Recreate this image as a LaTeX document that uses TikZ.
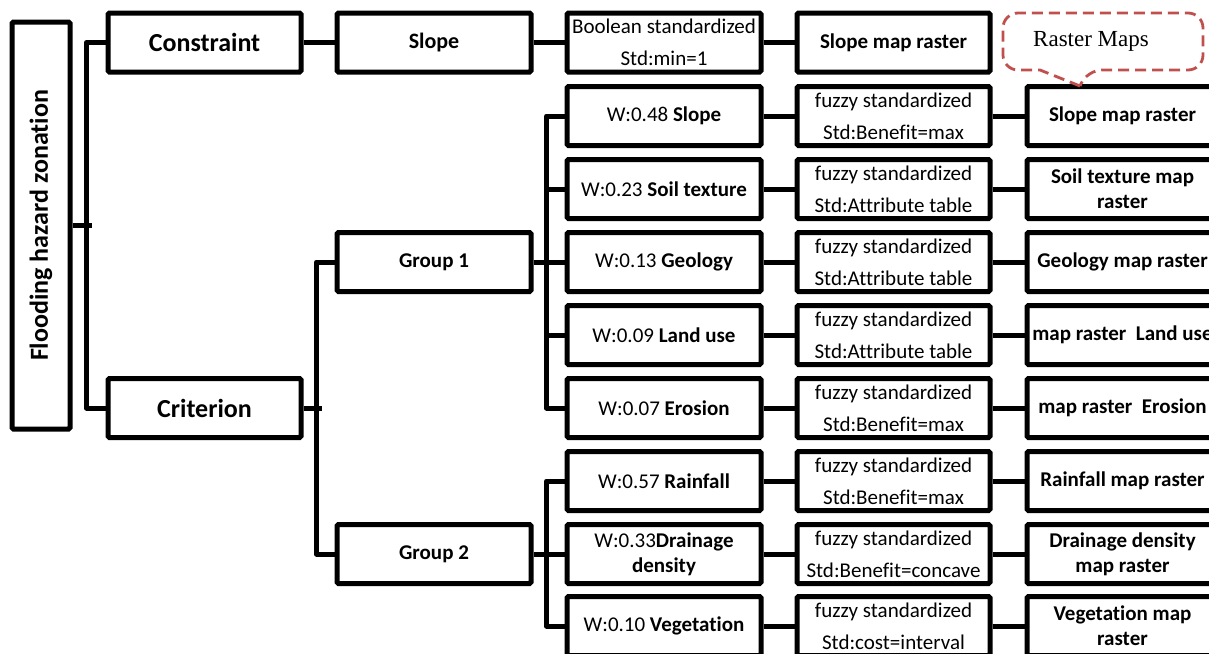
\documentclass[tikz,border=0pt]{standalone}
\usepackage{fontspec}
\setmainfont{Carlito}[Ligatures=NoCommon]
\newfontfamily\seriffont{Liberation Serif}
\usetikzlibrary{calc}

\definecolor{calloutred}{HTML}{C0504D}

\tikzset{
  box/.style={draw, line width=5pt, rounded corners=1.5pt, inner sep=0pt,
    minimum height=59pt, align=center, font=\fontsize{21}{25}\selectfont},
  wbox/.style={box, minimum width=194pt},
  stdbox/.style={box, minimum width=193pt, font=\fontsize{21}{32}\selectfont},
  mapbox/.style={box, minimum width=191pt, font=\fontsize{21}{25}\selectfont\bfseries},
  link/.style={line width=5pt, line join=round},
  callout/.style={calloutred, line width=2.8pt, dash pattern=on 11pt off 6pt}
}

\begin{document}
\begin{tikzpicture}[x=1pt, y=-1pt]
\useasboundingbox (0,0) rectangle (1209,653);
\clip (0,0) rectangle (1209,653);

% left part of the tree
\node[box, rotate=90, minimum width=407pt, minimum height=58pt, font=\fontsize{26}{30}\selectfont\bfseries] (flood) at (41,225.5) {Flooding hazard zonation};
\node[wbox, minimum width=193pt, font=\fontsize{26}{30}\selectfont\bfseries] (constraint) at (204.5,42.5) {Constraint};
\node[wbox, minimum width=193pt, font=\fontsize{26}{30}\selectfont\bfseries] (criterion) at (204.5,408) {Criterion};
\node[wbox, font=\fontsize{22}{26}\selectfont\bfseries] (slope) at (434,42.5) {Slope};
\node[wbox, font=\fontsize{21}{25}\selectfont\bfseries] (group1) at (434,262) {Group 1};
\node[wbox, font=\fontsize{21}{25}\selectfont\bfseries] (group2) at (434,554) {Group 2};
\node[stdbox, minimum width=194pt] (boolean) at (664,42.5) {Boolean standardized\\Std:min=1};
\node[mapbox, minimum width=193pt] (slopemap) at (893.5,42.5) {Slope map raster};

% criterion rows
\foreach \i/\y/\wtext/\ftext/\rtext in {
  1/116/{W:0.48 \textbf{Slope}}/{fuzzy standardized\\Std:Benefit=max}/{Slope map raster},
  2/189/{W:0.23 \textbf{Soil texture}}/{fuzzy standardized\\Std:Attribute table}/{Soil texture map\\raster},
  3/262/{W:0.13 \textbf{Geology}}/{fuzzy standardized\\Std:Attribute table}/{Geology map raster},
  4/335/{W:0.09 \textbf{Land use}}/{fuzzy standardized\\Std:Attribute table}/{map raster\ \ Land use},
  5/408/{W:0.07 \textbf{Erosion}}/{fuzzy standardized\\Std:Benefit=max}/{map raster\ \ Erosion},
  6/481/{W:0.57 \textbf{Rainfall}}/{fuzzy standardized\\Std:Benefit=max}/{Rainfall map raster},
  7/554/{W:0.33\textbf{Drainage}\\\textbf{density}}/{fuzzy standardized\\Std:Benefit=concave}/{Drainage density\\map raster},
  8/626/{W:0.10 \textbf{Vegetation}}/{fuzzy standardized\\Std:cost=interval}/{Vegetation map\\raster}} {
  \node[wbox] (w\i) at (664,\y) {\wtext};
  \node[stdbox] (f\i) at (893.5,\y) {\ftext};
  \node[mapbox] (r\i) at (1122.5,\y) {\rtext};
  \draw[link] (w\i) -- (f\i) -- (r\i);
}

% branches
\draw[link] (flood.south) -- ++(19,0);
\draw[link] (constraint.west) -- ++(-19,0) |- (criterion.west);
\draw[link] (constraint) -- (slope) -- (boolean) -- (slopemap);
\draw[link] (criterion.east) -- ++(18,0);
\draw[link] (group1.west) -- ++(-18,0) |- (group2.west);
\draw[link] (group1) -- (w3);
\draw[link] (group2) -- (w7);
\draw[link] (w1.west) -- ++(-18,0) |- (w5.west);
\draw[link] (w6.west) -- ++(-18,0) |- (w8.west);
\foreach \i in {2,3,4}
  \draw[link] (w\i.west) -- ++(-18,0);

% callout
\draw[callout] (1080,86) -- (1040,70) [rounded corners=15pt] -- (1003,70) -- (1003,13) -- (1203,13) -- (1203,70) -- (1087,70) [sharp corners] -- cycle;
\node[font=\seriffont\fontsize{23}{27}\selectfont] (rastermaps) at (1091,41) {Raster Maps};
\end{tikzpicture}
\end{document}
